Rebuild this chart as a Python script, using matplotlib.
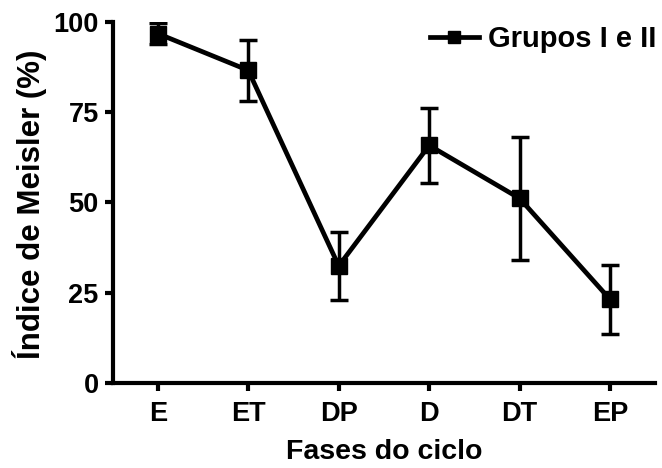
import numpy as np
import matplotlib.pyplot as plt
from matplotlib.lines import Line2D

plt.rcParams['font.family'] = ['Liberation Sans', 'DejaVu Sans']
plt.rcParams['font.weight'] = 'bold'

fases = ['E', 'ET', 'DP', 'D', 'DT', 'EP']
media = [96.8, 86.6, 32.4, 65.8, 51.1, 23.1]
erro = [3.0, 8.5, 9.4, 10.3, 17.0, 9.6]

fig = plt.figure(figsize=(6.62, 4.68), dpi=100)
ax = fig.add_axes([0.170, 0.182, 0.820, 0.771])

x = np.arange(len(fases))
ax.errorbar(x, media, yerr=erro, color='black', lw=3.4, marker='s', ms=11,
            elinewidth=2.5, capsize=6.5, capthick=2.5)

ax.set_xlim(-0.5, 5.5)
ax.set_ylim(0, 100)
ax.set_yticks([0, 25, 50, 75, 100])
ax.set_xticks(x)
ax.set_xticklabels(fases)

for s in ['top', 'right']:
    ax.spines[s].set_visible(False)
for s in ['left', 'bottom']:
    ax.spines[s].set_linewidth(3)
ax.tick_params(width=3, length=6, labelsize=19.5, pad=4)
ax.tick_params(axis='x', pad=7)

ax.set_xlabel('Fases do ciclo', fontsize=20.5, fontweight='bold', labelpad=9)
ax.set_ylabel('Índice de Meisler (%)', fontsize=22.5, fontweight='bold')
ax.yaxis.set_label_coords(-0.12, 0.496)

handle = Line2D([], [], color='black', lw=3.4, marker='s', ms=9)
ax.legend([handle], ['Grupos I e II'], loc='upper right', frameon=False,
          fontsize=21, handlelength=1.7, handletextpad=0.3,
          bbox_to_anchor=(1.05, 1.065))

fig.savefig('out.png', dpi=100)
